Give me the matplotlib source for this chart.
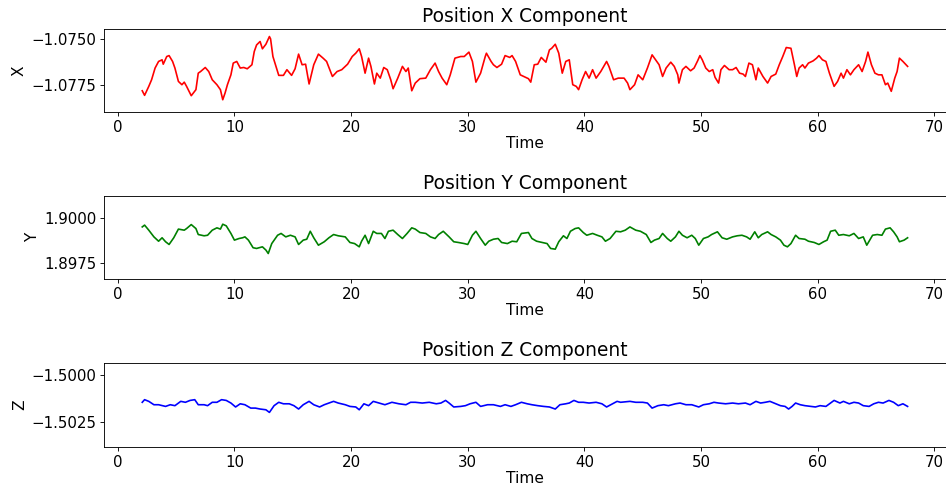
import matplotlib
matplotlib.use("Agg")
import matplotlib.pyplot as plt
from matplotlib.ticker import ScalarFormatter

# position X component
t_x = [2.1, 2.3, 2.66, 2.9, 3.2, 3.5, 3.8, 3.9, 4.2, 4.4, 4.7, 4.9, 5.2, 5.5, 5.7, 5.9,
       6.3, 6.7, 6.9, 7.1, 7.5, 7.8, 8.1, 8.5, 8.8, 9.0, 9.2, 9.4, 9.7, 9.9, 10.2, 10.5,
       10.8, 11.1, 11.5, 11.7, 11.9, 12.2, 12.4, 12.7, 13.0, 13.1, 13.3, 13.6, 13.8, 14.2,
       14.5, 14.9, 15.2, 15.5, 15.8, 16.1, 16.4, 16.8, 17.2, 17.6, 17.9, 18.4, 18.8, 19.2,
       19.7, 20.1, 20.4, 20.7, 20.9, 21.2, 21.5, 21.7, 22.0, 22.2, 22.5, 22.8, 23.1, 23.4,
       23.6, 24.0, 24.4, 24.7, 24.9, 25.2, 25.5, 25.9, 26.4, 26.8, 27.2, 27.5, 27.8, 28.2,
       28.5, 28.9, 29.4, 29.7, 30.1, 30.4, 30.7, 31.1, 31.5, 31.6, 32.0, 32.2, 32.5, 32.9,
       33.2, 33.6, 33.8, 34.1, 34.5, 34.8, 35.2, 35.4, 35.7, 36.0, 36.3, 36.7, 37.0, 37.2,
       37.5, 37.8, 38.1, 38.4, 38.7, 39.0, 39.3, 39.5, 39.8, 40.1, 40.4, 40.7, 41.0, 41.4,
       41.9, 42.1, 42.5, 42.9, 43.4, 43.7, 43.9, 44.3, 44.6, 45.0, 45.4, 45.8, 46.1, 46.4,
       46.7, 47.0, 47.4, 47.7, 48.0, 48.1, 48.4, 48.7, 49.1, 49.4, 49.7, 49.9, 50.1, 50.4,
       50.7, 51.0, 51.2, 51.5, 51.7, 52.0, 52.4, 52.7, 53.0, 53.3, 53.6, 53.8, 54.1, 54.4,
       54.7, 54.9, 55.3, 55.7, 56.0, 56.4, 56.7, 57.0, 57.3, 57.7, 58.0, 58.2, 58.4, 58.7,
       58.9, 59.2, 59.6, 59.9, 60.1, 60.4, 60.7, 61.0, 61.4, 61.7, 62.0, 62.2, 62.5, 62.8,
       63.1, 63.5, 63.8, 64.1, 64.3, 64.6, 64.9, 65.2, 65.5, 65.8, 66.0, 66.3, 66.6, 66.8,
       67.0, 67.3, 67.7]
pos_x = [-1.07783, -1.07808, -1.07759, -1.07723, -1.07659, -1.07623, -1.07614, -1.07638,
         -1.07596, -1.07591, -1.07623, -1.07659, -1.07732, -1.07750, -1.07736, -1.07759,
         -1.07810, -1.07777, -1.07687, -1.07678, -1.07656, -1.07678, -1.07723, -1.07750,
         -1.07777, -1.07832, -1.07795, -1.07750, -1.07696, -1.07632, -1.07623, -1.07659,
         -1.07656, -1.07663, -1.07641, -1.07569, -1.07533, -1.07514, -1.07554, -1.07529,
         -1.07487, -1.07500, -1.07596, -1.07659, -1.07699, -1.07699, -1.07668, -1.07699,
         -1.07663, -1.07583, -1.07641, -1.07638, -1.07746, -1.07641, -1.07583, -1.07605,
         -1.07623, -1.07705, -1.07678, -1.07668, -1.07638, -1.07596, -1.07578, -1.07554,
         -1.07596, -1.07687, -1.07605, -1.07650, -1.07746, -1.07687, -1.07714, -1.07656,
         -1.07668, -1.07723, -1.07772, -1.07714, -1.07650, -1.07678, -1.07659, -1.07783,
         -1.07741, -1.07717, -1.07714, -1.07668, -1.07632, -1.07678, -1.07714, -1.07750,
         -1.07696, -1.07605, -1.07596, -1.07596, -1.07572, -1.07623, -1.07736, -1.07687,
         -1.07596, -1.07578, -1.07623, -1.07641, -1.07656, -1.07638, -1.07591, -1.07601,
         -1.07591, -1.07623, -1.07696, -1.07705, -1.07717, -1.07736, -1.07641, -1.07638,
         -1.07601, -1.07627, -1.07560, -1.07551, -1.07529, -1.07578, -1.07687, -1.07623,
         -1.07614, -1.07750, -1.07759, -1.07777, -1.07723, -1.07678, -1.07714, -1.07668,
         -1.07714, -1.07678, -1.07623, -1.07650, -1.07723, -1.07714, -1.07714, -1.07741,
         -1.07777, -1.07750, -1.07696, -1.07723, -1.07659, -1.07587, -1.07614, -1.07641,
         -1.07705, -1.07659, -1.07627, -1.07650, -1.07696, -1.07741, -1.07668, -1.07650,
         -1.07674, -1.07659, -1.07620, -1.07591, -1.07614, -1.07659, -1.07678, -1.07668,
         -1.07710, -1.07741, -1.07668, -1.07645, -1.07668, -1.07668, -1.07656, -1.07687,
         -1.07692, -1.07705, -1.07632, -1.07641, -1.07723, -1.07659, -1.07705, -1.07741,
         -1.07705, -1.07692, -1.07641, -1.07596, -1.07547, -1.07551, -1.07641, -1.07705,
         -1.07659, -1.07641, -1.07659, -1.07632, -1.07620, -1.07605, -1.07591, -1.07614,
         -1.07623, -1.07687, -1.07759, -1.07732, -1.07687, -1.07714, -1.07668, -1.07696,
         -1.07668, -1.07641, -1.07678, -1.07623, -1.07572, -1.07641, -1.07687, -1.07696,
         -1.07696, -1.07750, -1.07741, -1.07786, -1.07714, -1.07678, -1.07605, -1.07623,
         -1.07650]

# position Y component
t_y = [2.1, 2.3, 2.66, 3.1, 3.5, 3.8, 4.1, 4.4, 4.8, 5.2, 5.7, 5.9, 6.3, 6.7, 6.9, 7.4,
       7.7, 8.1, 8.5, 8.8, 9.0, 9.3, 9.7, 10.0, 10.4, 10.7, 10.9, 11.2, 11.6, 11.9, 12.4,
       12.7, 12.9, 13.2, 13.7, 14.0, 14.4, 14.8, 15.2, 15.5, 15.9, 16.2, 16.5, 16.8, 17.2,
       17.7, 18.1, 18.5, 18.9, 19.5, 19.9, 20.3, 20.7, 20.9, 21.2, 21.5, 21.9, 22.2, 22.6,
       22.9, 23.2, 23.6, 24.0, 24.4, 24.8, 25.2, 25.5, 25.9, 26.4, 26.8, 27.2, 27.5, 27.9,
       28.4, 28.8, 29.2, 29.7, 30.0, 30.4, 30.7, 31.1, 31.5, 31.8, 32.2, 32.6, 32.9, 33.4,
       33.8, 34.2, 34.6, 35.2, 35.5, 35.9, 36.4, 36.8, 37.1, 37.5, 37.8, 38.2, 38.5, 38.8,
       39.2, 39.5, 39.9, 40.2, 40.7, 41.1, 41.5, 41.8, 42.2, 42.7, 43.1, 43.5, 43.9, 44.4,
       44.8, 45.3, 45.7, 46.0, 46.4, 46.7, 47.1, 47.4, 47.8, 48.1, 48.4, 48.8, 49.2, 49.5,
       49.8, 50.2, 50.6, 50.9, 51.4, 51.8, 52.2, 52.7, 53.1, 53.5, 53.9, 54.2, 54.6, 54.9,
       55.2, 55.7, 56.0, 56.4, 56.8, 57.1, 57.4, 57.7, 58.1, 58.4, 58.9, 59.2, 59.7, 60.1,
       60.5, 60.8, 61.1, 61.5, 61.8, 62.2, 62.7, 63.1, 63.5, 63.9, 64.2, 64.7, 65.1, 65.5,
       65.8, 66.2, 66.5, 66.8, 67.0, 67.4, 67.7]
pos_y = [1.89950, 1.89960, 1.89932, 1.89895, 1.89871, 1.89890, 1.89868, 1.89853, 1.89890,
         1.89938, 1.89932, 1.89941, 1.89963, 1.89941, 1.89908, 1.89901, 1.89904, 1.89932,
         1.89945, 1.89938, 1.89965, 1.89956, 1.89914, 1.89877, 1.89886, 1.89890, 1.89895,
         1.89877, 1.89835, 1.89831, 1.89840, 1.89822, 1.89803, 1.89858, 1.89904, 1.89914,
         1.89895, 1.89904, 1.89895, 1.89853, 1.89877, 1.89882, 1.89926, 1.89890, 1.89849,
         1.89868, 1.89890, 1.89908, 1.89901, 1.89895, 1.89864, 1.89858, 1.89840, 1.89871,
         1.89904, 1.89858, 1.89926, 1.89914, 1.89914, 1.89886, 1.89926, 1.89932, 1.89908,
         1.89886, 1.89914, 1.89945, 1.89938, 1.89919, 1.89914, 1.89895, 1.89886, 1.89908,
         1.89926, 1.89895, 1.89868, 1.89864, 1.89858, 1.89853, 1.89904, 1.89926, 1.89886,
         1.89849, 1.89871, 1.89882, 1.89886, 1.89864, 1.89858, 1.89871, 1.89868, 1.89914,
         1.89919, 1.89886, 1.89871, 1.89864, 1.89858, 1.89831, 1.89827, 1.89868, 1.89901,
         1.89886, 1.89926, 1.89941, 1.89945, 1.89919, 1.89904, 1.89914, 1.89904, 1.89895,
         1.89871, 1.89886, 1.89926, 1.89923, 1.89932, 1.89950, 1.89932, 1.89926, 1.89908,
         1.89864, 1.89877, 1.89886, 1.89914, 1.89886, 1.89871, 1.89895, 1.89926, 1.89904,
         1.89890, 1.89904, 1.89886, 1.89849, 1.89886, 1.89895, 1.89908, 1.89923, 1.89890,
         1.89882, 1.89895, 1.89901, 1.89904, 1.89895, 1.89882, 1.89923, 1.89890, 1.89908,
         1.89923, 1.89908, 1.89895, 1.89877, 1.89849, 1.89840, 1.89858, 1.89904, 1.89886,
         1.89882, 1.89871, 1.89864, 1.89853, 1.89868, 1.89877, 1.89926, 1.89932, 1.89904,
         1.89908, 1.89901, 1.89914, 1.89886, 1.89895, 1.89849, 1.89904, 1.89908, 1.89904,
         1.89938, 1.89945, 1.89923, 1.89895, 1.89868, 1.89877, 1.89890]

# position Z component
t_z = [2.1, 2.3, 2.66, 3.1, 3.5, 4.1, 4.5, 4.9, 5.4, 5.8, 6.2, 6.6, 6.9, 7.4, 7.7, 8.1,
       8.5, 8.9, 9.3, 9.7, 10.1, 10.5, 10.9, 11.4, 11.8, 12.2, 12.7, 13.0, 13.4, 13.8,
       14.2, 14.7, 15.1, 15.5, 15.9, 16.4, 16.8, 17.3, 17.7, 18.1, 18.5, 18.9, 19.5, 19.9,
       20.4, 20.7, 21.1, 21.5, 21.9, 22.4, 22.9, 23.5, 24.1, 24.7, 25.1, 25.5, 26.1, 26.7,
       27.3, 27.7, 28.1, 28.4, 28.8, 29.4, 29.8, 30.2, 30.7, 31.1, 31.7, 32.2, 32.8, 33.2,
       33.7, 34.1, 34.6, 35.1, 35.5, 36.0, 36.5, 37.0, 37.5, 37.9, 38.4, 38.7, 39.1, 39.5,
       39.9, 40.4, 41.0, 41.5, 41.9, 42.4, 42.8, 43.1, 43.9, 44.4, 45.0, 45.4, 45.8, 46.3,
       46.8, 47.2, 47.8, 48.2, 48.7, 49.2, 49.8, 50.2, 50.7, 51.1, 51.5, 52.1, 52.7, 53.2,
       53.8, 54.2, 54.7, 55.1, 55.5, 55.9, 56.4, 56.8, 57.2, 57.5, 57.8, 58.1, 58.5, 58.9,
       59.4, 59.8, 60.2, 60.7, 61.1, 61.4, 61.9, 62.2, 62.7, 63.1, 63.5, 63.9, 64.4, 64.8,
       65.2, 65.6, 66.1, 66.5, 66.9, 67.3, 67.7]
pos_z = [-1.50146, -1.50132, -1.50141, -1.50159, -1.50159, -1.50168, -1.50159, -1.50164,
         -1.50141, -1.50146, -1.50136, -1.50132, -1.50159, -1.50159, -1.50164, -1.50146,
         -1.50146, -1.50132, -1.50136, -1.50150, -1.50171, -1.50154, -1.50159, -1.50177,
         -1.50177, -1.50182, -1.50186, -1.50200, -1.50164, -1.50146, -1.50154, -1.50154,
         -1.50164, -1.50182, -1.50159, -1.50141, -1.50159, -1.50171, -1.50159, -1.50150,
         -1.50141, -1.50150, -1.50159, -1.50168, -1.50171, -1.50186, -1.50154, -1.50164,
         -1.50141, -1.50150, -1.50159, -1.50146, -1.50154, -1.50159, -1.50146, -1.50146,
         -1.50150, -1.50146, -1.50154, -1.50150, -1.50136, -1.50150, -1.50171, -1.50168,
         -1.50164, -1.50154, -1.50146, -1.50168, -1.50159, -1.50159, -1.50168, -1.50159,
         -1.50168, -1.50159, -1.50146, -1.50154, -1.50159, -1.50164, -1.50168, -1.50171,
         -1.50182, -1.50159, -1.50154, -1.50150, -1.50136, -1.50146, -1.50146, -1.50150,
         -1.50146, -1.50154, -1.50171, -1.50154, -1.50141, -1.50146, -1.50141, -1.50146,
         -1.50146, -1.50150, -1.50177, -1.50164, -1.50159, -1.50164, -1.50154, -1.50150,
         -1.50159, -1.50159, -1.50171, -1.50159, -1.50154, -1.50146, -1.50150, -1.50154,
         -1.50150, -1.50154, -1.50150, -1.50159, -1.50141, -1.50150, -1.50146, -1.50141,
         -1.50154, -1.50164, -1.50168, -1.50182, -1.50168, -1.50150, -1.50159, -1.50164,
         -1.50168, -1.50171, -1.50164, -1.50168, -1.50150, -1.50136, -1.50150, -1.50141,
         -1.50154, -1.50146, -1.50150, -1.50164, -1.50168, -1.50154, -1.50146, -1.50150,
         -1.50136, -1.50146, -1.50164, -1.50154, -1.50168]

panels = [
    (t_x, pos_x, "red", "X", "Position X Component", (-1.07899, -1.07446), [-1.0775, -1.0750]),
    (t_y, pos_y, "green", "Y", "Position Y Component", (1.89662, 1.90121), [1.8975, 1.9000]),
    (t_z, pos_z, "blue", "Z", "Position Z Component", (-1.50385, -1.49936), [-1.5025, -1.5000]),
]
boxes = [[0.1098, 0.7695, 0.889, 0.1708],
         [0.1098, 0.4259, 0.889, 0.1708],
         [0.1098, 0.0802, 0.889, 0.1729]]

dpi = 79.2
fig = plt.figure(figsize=(947 / dpi, 486 / dpi), dpi=dpi)
for box, (t, v, col, lab, title, ylim, yticks) in zip(boxes, panels):
    ax = fig.add_axes(box)
    ax.plot(t, v, color=col, linewidth=1.5)
    ax.set_ylim(*ylim)
    ax.set_yticks(yticks)
    ax.yaxis.set_major_formatter(ScalarFormatter(useOffset=False))
    ax.set_xticks(range(0, 71, 10))
    ax.tick_params(labelsize=13.7)
    ax.set_xlabel("Time", fontsize=14, labelpad=1.5)
    ax.set_ylabel(lab, fontsize=14)
    ax.set_title(title, fontsize=17)

fig.savefig("out.png", dpi=dpi)
